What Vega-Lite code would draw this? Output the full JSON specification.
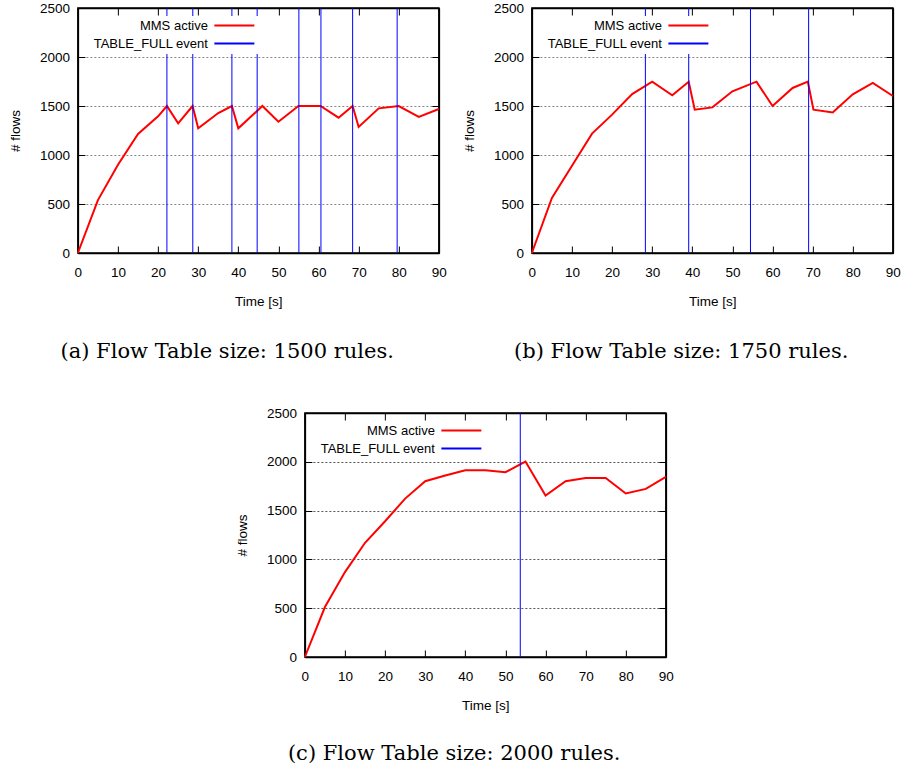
{
  "$schema": "https://vega.github.io/schema/vega-lite/v6.json",
  "padding": {"left": 6.5, "top": 0, "right": 0, "bottom": 0},
  "background": "white",
  "config": {
    "view": {"stroke": "black", "strokeWidth": 1.5},
    "axis": {"labelFont": "Liberation Sans", "titleFont": "Liberation Sans", "labelFontSize": 13.5, "titleFontSize": 13.5, "titleFontWeight": "normal", "labelColor": "black", "titleColor": "black", "tickColor": "black", "domain": true, "domainColor": "black", "domainWidth": 1.5, "ticks": true, "tickWidth": 1, "tickSize": -7, "grid": false, "labelFlush": false, "labelOverlap": false, "format": "d"},
    "legend": {"orient": "none", "legendX": 4, "legendY": 8, "title": null, "symbolType": "M24.6,0H32.6", "symbolSize": 100, "symbolStrokeWidth": 1.8, "labelAlign": "right", "labelOffset": 110, "labelFont": "Liberation Sans", "labelFontSize": 13, "labelColor": "black", "fillColor": "white", "padding": 3, "rowPadding": 4},
    "title": {"orient": "bottom", "frame": "bounds", "anchor": "middle", "font": "DejaVu Serif", "fontSize": 21, "fontWeight": "normal", "color": "black", "offset": 33}
  },
  "datasets": {
    "a": [
      {"t": 0, "n": 0}, {"t": 5, "n": 540}, {"t": 10, "n": 900}, {"t": 15, "n": 1214}, {"t": 20, "n": 1395},
      {"t": 22.2, "n": 1500}, {"t": 25, "n": 1323}, {"t": 28.6, "n": 1500}, {"t": 30, "n": 1272}, {"t": 35, "n": 1428},
      {"t": 38.4, "n": 1500}, {"t": 40, "n": 1272}, {"t": 46, "n": 1500}, {"t": 50, "n": 1340}, {"t": 55, "n": 1500},
      {"t": 60.5, "n": 1500}, {"t": 65, "n": 1381}, {"t": 68.5, "n": 1500}, {"t": 70, "n": 1286}, {"t": 75, "n": 1476},
      {"t": 80, "n": 1500}, {"t": 85, "n": 1388}, {"t": 90, "n": 1469}
    ],
    "ea": [{"t": 22.2}, {"t": 28.65}, {"t": 38.4}, {"t": 44.7}, {"t": 55.1}, {"t": 60.6}, {"t": 68.5}, {"t": 79.6}],
    "b": [
      {"t": 0, "n": 0}, {"t": 5, "n": 561}, {"t": 10, "n": 890}, {"t": 15, "n": 1218}, {"t": 20, "n": 1412},
      {"t": 25, "n": 1622}, {"t": 30, "n": 1748}, {"t": 35, "n": 1609}, {"t": 39.1, "n": 1748}, {"t": 40.6, "n": 1463},
      {"t": 45, "n": 1486}, {"t": 50, "n": 1650}, {"t": 56, "n": 1748}, {"t": 60, "n": 1500}, {"t": 65, "n": 1684},
      {"t": 68.8, "n": 1748}, {"t": 70.2, "n": 1463}, {"t": 75, "n": 1435}, {"t": 80, "n": 1619}, {"t": 85, "n": 1735},
      {"t": 90, "n": 1602}
    ],
    "eb": [{"t": 28.3}, {"t": 39.1}, {"t": 54.5}, {"t": 69.0}],
    "c": [
      {"t": 0, "n": 0}, {"t": 5, "n": 512}, {"t": 10, "n": 870}, {"t": 15, "n": 1170}, {"t": 20, "n": 1391},
      {"t": 25, "n": 1623}, {"t": 30, "n": 1801}, {"t": 35, "n": 1859}, {"t": 40, "n": 1913}, {"t": 45, "n": 1913},
      {"t": 50, "n": 1893}, {"t": 55, "n": 2002}, {"t": 60, "n": 1654}, {"t": 65, "n": 1801}, {"t": 70, "n": 1835},
      {"t": 75, "n": 1835}, {"t": 80, "n": 1675}, {"t": 85, "n": 1722}, {"t": 90, "n": 1845}
    ],
    "ec": [{"t": 53.7}]
  },
  "vconcat": [
    {
      "hconcat": [
        {
          "width": 361, "height": 245,
          "title": {"text": "(a) Flow Table size: 1500 rules."},
          "layer": [
            {"data": {"name": "a"}, "mark": {"type": "line", "strokeWidth": 2},
             "encoding": {
               "x": {"field": "t", "type": "quantitative", "scale": {"domain": [0, 90], "nice": false}, "axis": {"orient": "bottom", "title": "Time [s]", "values": [0,10,20,30,40,50,60,70,80,90], "labelPadding": 19.3, "titlePadding": 15.5, "domain": true, "ticks": true, "tickSize": -7}},
               "y": {"field": "n", "type": "quantitative", "scale": {"domain": [0, 2500], "nice": false}, "axis": {"orient": "left", "title": "# flows", "values": [0,500,1000,1500,2000,2500], "grid": true, "gridColor": "#888888", "gridDash": [2, 2], "labelPadding": 15.3, "titlePadding": 17.5, "domain": true, "ticks": true, "tickSize": -7}},
               "color": {"datum": "MMS active", "type": "nominal", "scale": {"domain": ["MMS active", "TABLE_FULL event"], "range": ["#ff0000", "#0000ff"]}}
             }},
            {"data": {"name": "ea"}, "mark": {"type": "rule", "strokeWidth": 1},
             "encoding": {
               "x": {"field": "t", "type": "quantitative", "axis": {"orient": "top", "labels": false, "title": null, "values": [0,10,20,30,40,50,60,70,80,90], "domain": true, "ticks": true, "tickSize": -7}},
               "y": {"datum": 0, "type": "quantitative", "axis": {"orient": "right", "labels": false, "title": null, "values": [0,500,1000,1500,2000,2500], "grid": false, "domain": true, "ticks": true, "tickSize": -7}},
               "y2": {"datum": 2500},
               "color": {"datum": "TABLE_FULL event", "type": "nominal"}
             }}
          ],
          "resolve": {"axis": {"x": "independent", "y": "independent"}}
        },
        {
          "width": 361, "height": 245,
          "title": {"text": "(b) Flow Table size: 1750 rules."},
          "layer": [
            {"data": {"name": "b"}, "mark": {"type": "line", "strokeWidth": 2},
             "encoding": {
               "x": {"field": "t", "type": "quantitative", "scale": {"domain": [0, 90], "nice": false}, "axis": {"orient": "bottom", "title": "Time [s]", "values": [0,10,20,30,40,50,60,70,80,90], "labelPadding": 19.3, "titlePadding": 15.5, "domain": true, "ticks": true, "tickSize": -7}},
               "y": {"field": "n", "type": "quantitative", "scale": {"domain": [0, 2500], "nice": false}, "axis": {"orient": "left", "title": "# flows", "values": [0,500,1000,1500,2000,2500], "grid": true, "gridColor": "#888888", "gridDash": [2, 2], "labelPadding": 15.3, "titlePadding": 17.5, "domain": true, "ticks": true, "tickSize": -7}},
               "color": {"datum": "MMS active", "type": "nominal", "scale": {"domain": ["MMS active", "TABLE_FULL event"], "range": ["#ff0000", "#0000ff"]}}
             }},
            {"data": {"name": "eb"}, "mark": {"type": "rule", "strokeWidth": 1},
             "encoding": {
               "x": {"field": "t", "type": "quantitative", "axis": {"orient": "top", "labels": false, "title": null, "values": [0,10,20,30,40,50,60,70,80,90], "domain": true, "ticks": true, "tickSize": -7}},
               "y": {"datum": 0, "type": "quantitative", "axis": {"orient": "right", "labels": false, "title": null, "values": [0,500,1000,1500,2000,2500], "grid": false, "domain": true, "ticks": true, "tickSize": -7}},
               "y2": {"datum": 2500},
               "color": {"datum": "TABLE_FULL event", "type": "nominal"}
             }}
          ],
          "resolve": {"axis": {"x": "independent", "y": "independent"}}
        }
      ],
      "spacing": 13,
      "resolve": {"scale": {"color": "independent", "x": "independent", "y": "independent"}, "legend": {"color": "independent"}}
    },
    {
      "width": 361, "height": 244,
      "title": {"text": "(c) Flow Table size: 2000 rules.", "offset": 31},
      "layer": [
        {"data": {"name": "c"}, "mark": {"type": "line", "strokeWidth": 2},
         "encoding": {
           "x": {"field": "t", "type": "quantitative", "scale": {"domain": [0, 90], "nice": false}, "axis": {"orient": "bottom", "title": "Time [s]", "values": [0,10,20,30,40,50,60,70,80,90], "labelPadding": 19.3, "titlePadding": 15.5, "domain": true, "ticks": true, "tickSize": -7}},
           "y": {"field": "n", "type": "quantitative", "scale": {"domain": [0, 2500], "nice": false}, "axis": {"orient": "left", "title": "# flows", "values": [0,500,1000,1500,2000,2500], "grid": true, "gridColor": "#555555", "gridDash": [2, 2], "labelPadding": 15.3, "titlePadding": 17.5, "domain": true, "ticks": true, "tickSize": -7}},
           "color": {"datum": "MMS active", "type": "nominal", "scale": {"domain": ["MMS active", "TABLE_FULL event"], "range": ["#ff0000", "#0000ff"]}}
         }},
        {"data": {"name": "ec"}, "mark": {"type": "rule", "strokeWidth": 1},
         "encoding": {
           "x": {"field": "t", "type": "quantitative", "axis": {"orient": "top", "labels": false, "title": null, "values": [0,10,20,30,40,50,60,70,80,90], "domain": true, "ticks": true, "tickSize": -7}},
           "y": {"datum": 0, "type": "quantitative", "axis": {"orient": "right", "labels": false, "title": null, "values": [0,500,1000,1500,2000,2500], "grid": false, "domain": true, "ticks": true, "tickSize": -7}},
           "y2": {"datum": 2500},
           "color": {"datum": "TABLE_FULL event", "type": "nominal"}
         }}
      ],
      "resolve": {"axis": {"x": "independent", "y": "independent"}}
    }
  ],
  "spacing": 42,
  "center": true,
  "resolve": {"scale": {"color": "independent", "x": "independent", "y": "independent"}, "legend": {"color": "independent"}}
}
